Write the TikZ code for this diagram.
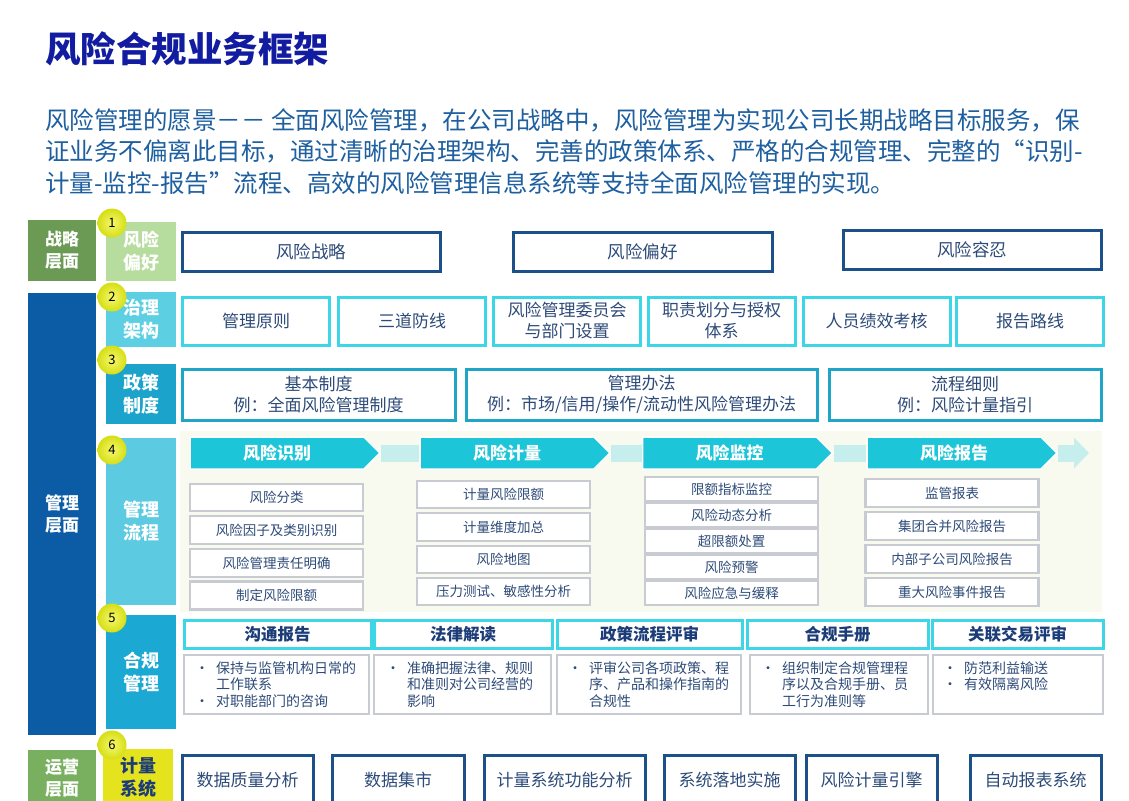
\documentclass[tikz,border=0pt]{standalone}
\usepackage{fontspec}
\setmainfont{Noto Sans CJK SC}
\usetikzlibrary{arrows.meta,shapes.symbols}

\definecolor{titlenavy}{RGB}{18,28,160}
\definecolor{introblue}{RGB}{30,95,160}
\definecolor{stratgreen}{RGB}{106,154,84}
\definecolor{mgmtblue}{RGB}{11,92,165}
\definecolor{opgreen}{RGB}{120,176,96}
\definecolor{appgreen}{RGB}{182,220,158}
\definecolor{govcyan}{RGB}{92,208,226}
\definecolor{polteal}{RGB}{27,163,203}
\definecolor{proccyan}{RGB}{92,202,224}
\definecolor{compblue}{RGB}{27,168,210}
\definecolor{sysyellow}{RGB}{229,226,30}
\definecolor{ballyellow}{RGB}{214,222,20}
\definecolor{balllight}{RGB}{246,248,110}
\definecolor{darkedge}{RGB}{28,80,136}
\definecolor{cyanedge}{RGB}{60,214,230}
\definecolor{tealedge}{RGB}{31,166,198}
\definecolor{greyedge}{RGB}{201,203,211}
\definecolor{bannercyan}{RGB}{28,198,216}
\definecolor{bandcyan}{RGB}{198,238,236}
\definecolor{procbg}{RGB}{248,250,240}
\definecolor{boxtext}{RGB}{45,75,120}
\definecolor{headnavy}{RGB}{28,60,120}

\begin{document}
\begin{tikzpicture}[x=1pt, y=-1pt,
  lvl/.style={inner sep=0, minimum width=68pt, text=white, align=center,
    font=\fontsize{17}{22}\selectfont\bfseries},
  cat/.style={inner sep=0, minimum width=70pt, text=white, align=center,
    font=\fontsize{18}{23}\selectfont\bfseries},
  ball/.style={circle, inner color=balllight, outer color=ballyellow,
    minimum size=29pt, inner sep=0, font=\fontsize{13}{13}\selectfont},
  stratbox/.style={draw=darkedge, line width=3pt, fill=white, inner sep=0,
    minimum height=39pt, text=boxtext, font=\fontsize{17.5}{21}\selectfont},
  govbox/.style={draw=cyanedge, line width=3pt, fill=white, inner sep=0,
    minimum width=147pt, minimum height=48pt, align=center, text=boxtext,
    font=\fontsize{17}{21}\selectfont},
  polbox/.style={draw=tealedge, line width=3pt, fill=white, inner sep=0,
    minimum height=51pt, align=center, text=boxtext,
    font=\fontsize{17}{21}\selectfont},
  banner/.style={signal, signal to=east, signal pointer angle=90,
    fill=bannercyan, draw=white, line width=1.5pt, inner sep=0,
    minimum width=190pt, minimum height=32pt, text=white,
    font=\fontsize{17}{17}\selectfont\bfseries},
  band/.style={bandcyan, line width=17pt},
  itembox/.style={draw=greyedge, line width=2.5pt, fill=white, inner sep=0,
    minimum width=173pt, text=boxtext, font=\fontsize{13.5}{16}\selectfont},
  comphead/.style={draw=cyanedge, line width=3pt, fill=white, inner sep=0,
    minimum height=28pt, text=headnavy, font=\fontsize{16.5}{18}\selectfont\bfseries},
  compbody/.style={draw=greyedge, line width=2.5pt, fill=white, inner sep=0,
    minimum height=59pt},
  bodytext/.style={anchor=north west, inner sep=0, text=boxtext,
    font=\fontsize{14}{16}\selectfont},
  sysbox/.style={draw=darkedge, line width=3pt, fill=white, inner sep=0,
    minimum height=50pt, text=boxtext, font=\fontsize{17}{21}\selectfont}]

  \useasboundingbox (0,0) rectangle (1129,800);
  \fill[white] (0,0) rectangle (1129,800);

  % title and introduction
  \node[anchor=base west, inner sep=0, text=titlenavy,
    font=\fontsize{35.5}{36}\selectfont\bfseries] (title) at (45,63) {风险合规业务框架};
  \node[anchor=base west, inner sep=0, text=introblue, font=\fontsize{24.5}{32}\selectfont]
    (intro1) at (45,129) {风险管理的愿景－－ 全面风险管理，在公司战略中，风险管理为实现公司长期战略目标服务，保};
  \node[anchor=base west, inner sep=0, text=introblue, font=\fontsize{24.5}{32}\selectfont]
    (intro2) at (45,160) {证业务不偏离此目标，通过清晰的治理架构、完善的政策体系、严格的合规管理、完整的“识别-};
  \node[anchor=base west, inner sep=0, text=introblue, font=\fontsize{24.5}{32}\selectfont]
    (intro3) at (45,192) {计量-监控-报告”流程、高效的风险管理信息系统等支持全面风险管理的实现。};

  % levels
  \node[lvl, fill=stratgreen, minimum height=61pt] (lvlstrat) at (62,250.5) {战略\\层面};
  \node[lvl, fill=mgmtblue, minimum height=442pt] (lvlmgmt) at (62,514) {管理\\层面};
  \node[lvl, fill=opgreen, minimum height=56pt] (lvlops) at (62,778) {运营\\层面};

  % categories
  \node[cat, fill=appgreen, minimum height=59pt] (catapp) at (141,251.5) {风险\\偏好};
  \node[cat, fill=govcyan, minimum height=55pt] (catgov) at (141,319.5) {治理\\架构};
  \node[cat, fill=polteal, minimum height=60pt] (catpol) at (141,394) {政策\\制度};
  \node[cat, fill=proccyan, minimum height=167pt] (catproc) at (141,521.5) {管理\\流程};
  \node[cat, fill=compblue, minimum height=114pt] (catcomp) at (141,672) {合规\\管理};
  \node[cat, fill=sysyellow, text=headnavy, minimum height=57pt] (catsys) at (138,777.5) {计量\\系统};

  \node[ball] (num1) at (112,223) {1};
  \node[ball] (num2) at (112,297) {2};
  \node[ball] (num3) at (112,360) {3};
  \node[ball] (num4) at (112,450) {4};
  \node[ball] (num5) at (112,618) {5};
  \node[ball] (num6) at (112,745) {6};

  % risk appetite
  \node[stratbox, minimum width=258pt] (riskstrat) at (311,251.5) {风险战略};
  \node[stratbox, minimum width=259pt] (riskapp) at (642.5,251.5) {风险偏好};
  \node[stratbox, minimum width=258pt] (risktol) at (972,250) {风险容忍};

  % governance
  \node[govbox] (gov1) at (256,321) {管理原则};
  \node[govbox] (gov2) at (412,321) {三道防线};
  \node[govbox] (gov3) at (567,321) {风险管理委员会\\与部门设置};
  \node[govbox] (gov4) at (721.5,321) {职责划分与授权\\体系};
  \node[govbox] (gov5) at (876.5,321) {人员绩效考核};
  \node[govbox] (gov6) at (1030,321) {报告路线};

  % policies
  \node[polbox, minimum width=273pt] (pol1) at (318.5,394.5) {基本制度\\例：全面风险管理制度};
  \node[polbox, minimum width=351pt] (pol2) at (641.5,394.5) {管理办法\\例：市场/信用/操作/流动性风险管理办法};
  \node[polbox, minimum width=272pt] (pol3) at (965,394.5) {流程细则\\例：风险计量指引};

  % process
  \fill[procbg] (180,431) rectangle (1102,612);
  \node[banner] (flow1) at (277,453) {风险识别};
  \node[banner] (flow2) at (507,453) {风险计量};
  \node[banner] (flow3) at (729.5,453) {风险监控};
  \node[banner] (flow4) at (954,453) {风险报告};
  \coordinate (flowend) at (1089,453);
  \draw[band] (flow1.east) -- (flow2.west);
  \draw[band] (flow2.east) -- (flow3.west);
  \draw[band] (flow3.east) -- (flow4.west);
  \draw[band, -{Triangle[length=15pt,width=30pt]}] (flow4.east) -- (flowend);

  \node[itembox, minimum height=27pt] (id1) at (276.5,497.5) {风险分类};
  \node[itembox, minimum height=28pt] (id2) at (276.5,530) {风险因子及类别识别};
  \node[itembox, minimum height=28pt] (id3) at (276.5,563) {风险管理责任明确};
  \node[itembox, minimum height=28pt] (id4) at (276.5,595.5) {制定风险限额};

  \node[itembox, minimum height=27pt] (ms1) at (503.5,494.5) {计量风险限额};
  \node[itembox, minimum height=28pt] (ms2) at (503.5,527) {计量维度加总};
  \node[itembox, minimum height=27pt] (ms3) at (503.5,559.5) {风险地图};
  \node[itembox, minimum height=27pt] (ms4) at (503.5,591.5) {压力测试、敏感性分析};

  \node[itembox, minimum height=24pt] (mo1) at (731.5,489) {限额指标监控};
  \node[itembox, minimum height=24pt] (mo2) at (731.5,515) {风险动态分析};
  \node[itembox, minimum height=24pt] (mo3) at (731.5,541) {超限额处置};
  \node[itembox, minimum height=24pt] (mo4) at (731.5,567) {风险预警};
  \node[itembox, minimum height=24pt] (mo5) at (731.5,593) {风险应急与缓释};

  \node[itembox, minimum height=28pt] (rp1) at (952,493) {监管报表};
  \node[itembox, minimum height=28pt] (rp2) at (952,526) {集团合并风险报告};
  \node[itembox, minimum height=28pt] (rp3) at (952,559) {内部子公司风险报告};
  \node[itembox, minimum height=28pt] (rp4) at (952,592) {重大风险事件报告};

  % compliance
  \node[comphead, minimum width=187pt] (ch1) at (277.5,634) {沟通报告};
  \node[comphead, minimum width=178pt] (ch2) at (463,634) {法律解读};
  \node[comphead, minimum width=185pt] (ch3) at (649.5,634) {政策流程评审};
  \node[comphead, minimum width=181pt] (ch4) at (837.5,634) {合规手册};
  \node[comphead, minimum width=171pt] (ch5) at (1017.5,634) {关联交易评审};

  \node[compbody, minimum width=185pt] (cb1) at (276.5,684.5) {};
  \node[compbody, minimum width=177pt] (cb2) at (462.5,684.5) {};
  \node[compbody, minimum width=184pt] (cb3) at (649,684.5) {};
  \node[compbody, minimum width=178pt] (cb4) at (839,684.5) {};
  \node[compbody, minimum width=170pt] (cb5) at (1018,684.5) {};

  \node[bodytext] (ct1) at (195,661) {\begin{tabular}{@{}p{21pt}@{}l@{}}\textbullet & 保持与监管机构日常的\\ & 工作联系\\ \textbullet & 对职能部门的咨询\end{tabular}};
  \node[bodytext] (ct2) at (386,661) {\begin{tabular}{@{}p{21pt}@{}l@{}}\textbullet & 准确把握法律、规则\\ & 和准则对公司经营的\\ & 影响\end{tabular}};
  \node[bodytext] (ct3) at (568,661) {\begin{tabular}{@{}p{21pt}@{}l@{}}\textbullet & 评审公司各项政策、程\\ & 序、产品和操作指南的\\ & 合规性\end{tabular}};
  \node[bodytext] (ct4) at (761,661) {\begin{tabular}{@{}p{21pt}@{}l@{}}\textbullet & 组织制定合规管理程\\ & 序以及合规手册、员\\ & 工行为准则等\end{tabular}};
  \node[bodytext] (ct5) at (943,661) {\begin{tabular}{@{}p{21pt}@{}l@{}}\textbullet & 防范利益输送\\ \textbullet & 有效隔离风险\end{tabular}};

  % measurement system
  \node[sysbox, minimum width=131pt] (sys1) at (247.5,780) {数据质量分析};
  \node[sysbox, minimum width=132pt] (sys2) at (398,780) {数据集市};
  \node[sysbox, minimum width=161pt] (sys3) at (564.5,780) {计量系统功能分析};
  \node[sysbox, minimum width=131pt] (sys4) at (729.5,780) {系统落地实施};
  \node[sysbox, minimum width=131pt] (sys5) at (871.5,780) {风险计量引擎};
  \node[sysbox, minimum width=131pt] (sys6) at (1035.5,780) {自动报表系统};
\end{tikzpicture}
\end{document}
